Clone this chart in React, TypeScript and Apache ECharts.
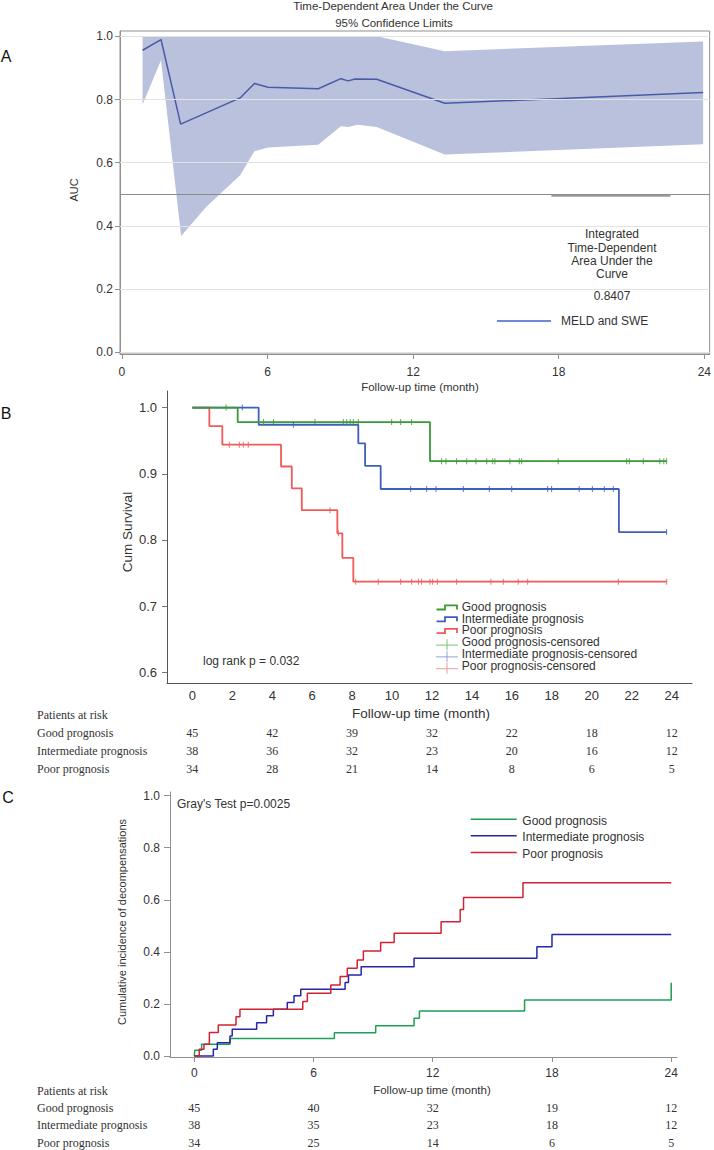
import React, { useEffect, useRef } from "react";
import * as echarts from "echarts";

// ---------- Panel A: time-dependent AUC ----------
const aucXTicks = [0, 6, 12, 18, 24];
const aucYTicks = [0, 0.2, 0.4, 0.6, 0.8, 1.0];
const aucTime = [0.85, 1.61, 2.42, 4.87, 5.46, 6.02, 8.09, 9.02, 9.33, 9.6, 10.5, 13.3, 23.95];
const aucValue = [0.956, 0.99, 0.722, 0.805, 0.851, 0.839, 0.834, 0.866, 0.859, 0.865, 0.864, 0.788, 0.822];
const bandTime = [0.85, 1.61, 2.44, 3.48, 4.87, 5.46, 6.02, 8.09, 9.02, 9.33, 9.7, 10.5, 13.3, 23.95];
const bandUpper = [1.0, 1.0, 1.0, 1.0, 1.0, 1.0, 1.0, 1.0, 1.0, 1.0, 1.0, 1.0, 0.953, 0.984];
const bandLower = [0.784, 0.924, 0.368, 0.46, 0.56, 0.636, 0.648, 0.657, 0.715, 0.713, 0.72, 0.713, 0.626, 0.658];
const aucReference = 0.5;
const aucLegendSegX = [17.7, 22.6];
const aucLegendSegY = 0.495;
const integratedAuc = "0.8407";

// ---------- Panel B: Kaplan-Meier ----------
const kmXTicks = [0, 2, 4, 6, 8, 10, 12, 14, 16, 18, 20, 22, 24];
const kmYTicks = [0.6, 0.7, 0.8, 0.9, 1.0];
const kmGoodT = [0, 2.27, 11.9, 23.75];
const kmGoodS = [1.0, 0.978, 0.919, 0.919];
const kmInterT = [0, 3.32, 8.31, 8.65, 9.43, 21.36, 23.75];
const kmInterS = [1.0, 0.974, 0.946, 0.912, 0.877, 0.812, 0.812];
const kmPoorT = [0, 0.85, 1.5, 4.44, 4.98, 5.48, 7.26, 7.51, 8.06, 23.75];
const kmPoorS = [1.0, 0.972, 0.944, 0.911, 0.878, 0.845, 0.81, 0.773, 0.737, 0.737];
const censGood = [1.69, 3.56, 4.06, 6.14, 7.56, 7.73, 7.9, 8.06, 8.31, 9.98, 10.43, 10.98, 12.48, 12.7, 13.23, 13.74, 14.2, 14.74, 15.04, 15.15, 15.9, 16.37, 16.49, 18.32, 21.75, 21.88, 22.58, 23.41, 23.61, 23.75];
const censInter = [2.5, 5.06, 10.93, 11.73, 12.2, 13.57, 14.87, 15.99, 17.79, 17.99, 19.37, 20.03, 20.63, 21.08, 23.75];
const censPoor = [1.85, 2.35, 2.55, 2.8, 6.89, 7.31, 8.18, 9.31, 10.43, 10.98, 11.32, 11.48, 11.9, 12.03, 12.27, 13.23, 14.95, 15.57, 16.32, 16.79, 21.33, 23.75];
const riskTimesB = [0, 4, 8, 12, 16, 20, 24];
const riskGoodB = [45, 42, 39, 32, 22, 18, 12];
const riskInterB = [38, 36, 32, 23, 20, 16, 12];
const riskPoorB = [34, 28, 21, 14, 8, 6, 5];

// ---------- Panel C: cumulative incidence ----------
const ciXTicks = [0, 6, 12, 18, 24];
const ciYTicks = [0, 0.2, 0.4, 0.6, 0.8, 1.0];
const ciGoodT = [0, 0.03, 0.37, 1.8, 7.05, 9.13, 11.06, 11.33, 16.62, 24.0];
const ciGoodV = [0, 0.022, 0.045, 0.067, 0.089, 0.116, 0.145, 0.173, 0.215, 0.281];
const ciInterT = [0, 0.96, 1.16, 1.8, 1.91, 3.14, 3.64, 3.98, 4.68, 5.02, 5.36, 7.59, 7.76, 8.4, 11.06, 17.24, 18.0, 24.0];
const ciInterV = [0, 0.026, 0.051, 0.077, 0.103, 0.128, 0.154, 0.179, 0.205, 0.231, 0.256, 0.282, 0.311, 0.343, 0.375, 0.42, 0.467, 0.467];
const ciPoorT = [0, 0.25, 0.49, 0.76, 1.21, 2.1, 2.3, 5.46, 5.69, 6.87, 7.34, 7.7, 8.2, 8.51, 9.38, 10.06, 12.42, 13.38, 13.55, 16.54, 24.0];
const ciPoorV = [0, 0.026, 0.045, 0.09, 0.119, 0.151, 0.179, 0.209, 0.241, 0.273, 0.305, 0.337, 0.369, 0.403, 0.436, 0.471, 0.516, 0.563, 0.609, 0.665, 0.665];
const riskTimesC = [0, 6, 12, 18, 24];
const riskGoodC = [45, 40, 32, 19, 12];
const riskInterC = [38, 35, 23, 18, 12];
const riskPoorC = [34, 25, 14, 6, 5];

const groupNames = ["Good prognosis", "Intermediate prognosis", "Poor prognosis"];

const SANS = "'Liberation Sans', Arial, sans-serif";
const SERIF = "'Liberation Serif', 'Times New Roman', serif";

const KM_COLORS = ["#3a9a34", "#3f5fc0", "#f25a5a"];
const KM_CENS = ["#7cc27a", "#8ea2e0", "#f59a9a"];
const CI_COLORS = ["#1f9f55", "#2626a8", "#cf2232"];

const zip = (a: number[], b: number[]) => a.map((v, i) => [v, b[i]]);
const stepAt = (t: number, T: number[], S: number[]) => {
  let v = S[0];
  for (let i = 0; i < T.length; i++) if (T[i] <= t) v = S[i];
  return v;
};
const fmt1 = (v: number) => v.toFixed(1);

function txt(x: number, y: number, text: string, o: any = {}) {
  const align = o.align || "left";
  const va = o.va || "middle";
  return {
    type: "text",
    x,
    y,
    rotation: o.rotation || 0,
    silent: true,
    z: 50,
    style: {
      x: 0,
      y: 0,
      text,
      fill: o.color || "#333",
      fontSize: o.size || 12,
      fontFamily: o.family || SANS,
      fontWeight: o.weight || "normal",
      align,
      verticalAlign: va,
      textAlign: align,
      textVerticalAlign: va,
    },
  };
}

function buildOption(): any {
  const axisBase = (color: string) => ({
    type: "value",
    splitLine: { show: false },
    axisLine: { show: true, onZero: false, lineStyle: { color, width: 1 } },
  });
  const label = (vals: number[], size: number, margin: number, fmt?: (v: number) => string) => ({
    customValues: vals,
    color: "#333",
    fontSize: size,
    fontFamily: SANS,
    margin,
    formatter: fmt ? (v: number) => fmt(v) : (v: number) => String(v),
  });

  return {
    animation: false,
    backgroundColor: "#fff",
    grid: [
      { left: 120, top: 31, width: 592, height: 323, show: true, borderColor: "#8f8f8f", borderWidth: 1, backgroundColor: "transparent" },
      { left: 167, top: 391, width: 525, height: 292 },
      { left: 170, top: 792, width: 507, height: 265 },
    ],
    xAxis: [
      {
        ...axisBase("#8f8f8f"),
        gridIndex: 0,
        min: -0.08,
        max: 24.22,
        axisTick: { show: true, customValues: aucXTicks, length: 5, lineStyle: { color: "#8f8f8f" } },
        axisLabel: label(aucXTicks, 12, 12),
      },
      {
        ...axisBase("#555"),
        gridIndex: 1,
        min: -1.27,
        max: 25.02,
        axisTick: { show: false },
        axisLabel: label(kmXTicks, 13, 6),
      },
      {
        ...axisBase("#8f8f8f"),
        gridIndex: 2,
        min: -1.22,
        max: 24.29,
        axisTick: { show: true, customValues: ciXTicks, length: 5, lineStyle: { color: "#8f8f8f" } },
        axisLabel: label(ciXTicks, 12, 10),
      },
    ],
    yAxis: [
      {
        ...axisBase("#8f8f8f"),
        gridIndex: 0,
        min: -0.006,
        max: 1.017,
        axisTick: { show: true, customValues: aucYTicks, length: 5, lineStyle: { color: "#8f8f8f" } },
        axisLabel: label(aucYTicks, 12, 7, fmt1),
      },
      {
        ...axisBase("#555"),
        gridIndex: 1,
        min: 0.584,
        max: 1.025,
        axisTick: { show: true, customValues: kmYTicks, length: 5, lineStyle: { color: "#777" } },
        axisLabel: label(kmYTicks, 13, 10, fmt1),
      },
      {
        ...axisBase("#8f8f8f"),
        gridIndex: 2,
        min: -0.004,
        max: 1.014,
        axisTick: { show: true, customValues: ciYTicks, length: 6, lineStyle: { color: "#8f8f8f" } },
        axisLabel: label(ciYTicks, 12, 10, fmt1),
      },
    ],
    series: [
      {
        type: "custom",
        xAxisIndex: 0,
        yAxisIndex: 0,
        silent: true,
        z: 1,
        data: [[bandTime[0], bandLower[0]]],
        renderItem: (params: any, api: any) => {
          const pts: number[][] = [];
          for (let i = 0; i < bandTime.length; i++) pts.push(api.coord([bandTime[i], bandUpper[i]]));
          for (let i = bandTime.length - 1; i >= 0; i--) pts.push(api.coord([bandTime[i], bandLower[i]]));
          return { type: "polygon", shape: { points: pts }, style: { fill: "#b9c1dd" } };
        },
      },
      {
        type: "line",
        xAxisIndex: 0,
        yAxisIndex: 0,
        z: 2,
        silent: true,
        symbol: "none",
        lineStyle: { opacity: 0 },
        data: [[0, 0.5]],
        markLine: {
          silent: true,
          symbol: ["none", "none"],
          label: { show: false },
          lineStyle: { color: "#e2e2e2", type: "solid", width: 1 },
          data: aucYTicks.map((v) => ({ yAxis: v })),
        },
      },
      {
        type: "line",
        xAxisIndex: 0,
        yAxisIndex: 0,
        z: 3,
        silent: true,
        symbol: "none",
        lineStyle: { opacity: 0 },
        data: [[0, 0.5]],
        markLine: {
          silent: true,
          symbol: ["none", "none"],
          label: { show: false },
          lineStyle: { color: "#8a8a8a", type: "solid", width: 1 },
          data: [{ yAxis: aucReference }],
        },
      },
      {
        type: "line",
        xAxisIndex: 0,
        yAxisIndex: 0,
        z: 4,
        silent: true,
        symbol: "none",
        lineStyle: { color: "#4a5aa6", width: 1.5 },
        data: zip(aucTime, aucValue),
      },
      {
        type: "line",
        xAxisIndex: 0,
        yAxisIndex: 0,
        z: 4,
        silent: true,
        symbol: "none",
        lineStyle: { color: "#9a9a9a", width: 2 },
        data: aucLegendSegX.map((x) => [x, aucLegendSegY]),
      },
      ...[
        [kmGoodT, kmGoodS],
        [kmInterT, kmInterS],
        [kmPoorT, kmPoorS],
      ].map(([T, S], k) => ({
        type: "line",
        xAxisIndex: 1,
        yAxisIndex: 1,
        step: "end",
        z: 5 + (2 - k),
        silent: true,
        symbol: "none",
        lineStyle: { color: KM_COLORS[k], width: 1.8 },
        data: zip(T, S),
      })),
      ...[
        [censGood, kmGoodT, kmGoodS],
        [censInter, kmInterT, kmInterS],
        [censPoor, kmPoorT, kmPoorS],
      ].map(([C, T, S], k) => ({
        type: "scatter",
        xAxisIndex: 1,
        yAxisIndex: 1,
        z: 9,
        silent: true,
        symbol: "rect",
        symbolSize: [1, 6],
        itemStyle: { color: KM_COLORS[k], opacity: 0.85 },
        data: C.map((t) => [t, stepAt(t, T, S)]),
      })),
      ...[
        [ciGoodT, ciGoodV],
        [ciInterT, ciInterV],
        [ciPoorT, ciPoorV],
      ].map(([T, V], k) => ({
        type: "line",
        xAxisIndex: 2,
        yAxisIndex: 2,
        step: "end",
        z: 5 + k,
        silent: true,
        symbol: "none",
        lineStyle: { color: CI_COLORS[k], width: 1.5 },
        data: zip(T, V),
      })),
    ],
  };
}

function buildGraphics(chart: any): any[] {
  const px = (axis: number, v: number) => chart.convertToPixel({ xAxisIndex: axis }, v) as number;
  const g: any[] = [];

  // Panel A
  g.push(txt(6, 56, "A", { size: 16, align: "center", color: "#111" }));
  g.push(txt(393, 6, "Time-Dependent Area Under the Curve", { size: 11.5, align: "center" }));
  g.push(txt(394, 23, "95% Confidence Limits", { size: 11.5, align: "center" }));
  g.push(txt(74, 190, "AUC", { size: 11, align: "center", rotation: Math.PI / 2 }));
  g.push(txt(420, 387, "Follow-up time (month)", { size: 11.5, align: "center" }));
  ["Integrated", "Time-Dependent", "Area Under the", "Curve"].forEach((s, i) =>
    g.push(txt(612, 234.3 + i * 13.3, s, { size: 12, align: "center" }))
  );
  g.push(txt(612, 296, integratedAuc, { size: 12, align: "center" }));
  g.push({ type: "line", silent: true, z: 50, shape: { x1: 497, y1: 321, x2: 551, y2: 321 }, style: { stroke: "#3b62c8", lineWidth: 1.5 } });
  g.push(txt(561, 321, "MELD and SWE", { size: 12 }));

  // Panel B
  g.push(txt(6, 413, "B", { size: 16, align: "center", color: "#111" }));
  g.push(txt(127, 532, "Cum Survival", { size: 13.5, align: "center", rotation: Math.PI / 2 }));
  g.push(txt(421, 713, "Follow-up time (month)", { size: 13.5, align: "center" }));
  g.push(txt(203, 661, "log rank p = 0.032", { size: 12 }));
  const legY = 606.7;
  const step = 11.8;
  groupNames.forEach((name, k) => {
    const c = legY + k * step;
    g.push({
      type: "polyline",
      silent: true,
      z: 50,
      shape: { points: [[436.5, c + 2.8], [445, c + 2.8], [445, c - 1.4], [457, c - 1.4], [457, c + 2.8]] },
      style: { stroke: KM_COLORS[k], lineWidth: 1.8, fill: null },
    });
    g.push(txt(461.7, c, name, { size: 12 }));
  });
  groupNames.forEach((name, k) => {
    const c = legY + (k + 3) * step;
    g.push({ type: "line", silent: true, z: 50, shape: { x1: 436, y1: c + 3, x2: 458, y2: c + 3 }, style: { stroke: KM_CENS[k], lineWidth: 1 } });
    g.push({ type: "line", silent: true, z: 50, shape: { x1: 447, y1: c - 3, x2: 447, y2: c + 8 }, style: { stroke: KM_CENS[k], lineWidth: 1 } });
    g.push(txt(461.7, c, name + "-censored", { size: 12 }));
  });
  // risk table B
  g.push(txt(37, 715, "Patients at risk", { size: 12, family: SERIF }));
  const rowsB = [riskGoodB, riskInterB, riskPoorB];
  rowsB.forEach((row, k) => {
    const y = 733 + k * 17.8;
    g.push(txt(37, y, groupNames[k], { size: 12, family: SERIF }));
    row.forEach((n, i) => g.push(txt(px(1, riskTimesB[i]), y, String(n), { size: 12, family: SERIF, align: "center" })));
  });

  // Panel C
  g.push(txt(8, 797, "C", { size: 16, align: "center", color: "#111" }));
  g.push(txt(122, 922, "Cumulative incidence of decompensations", { size: 11, align: "center", rotation: Math.PI / 2 }));
  g.push(txt(177, 804, "Gray's Test p=0.0025", { size: 12 }));
  groupNames.forEach((name, k) => {
    const c = 820.7 + k * 16.6;
    g.push({ type: "line", silent: true, z: 50, shape: { x1: 470.7, y1: c - 1.5, x2: 516.7, y2: c - 1.5 }, style: { stroke: CI_COLORS[k], lineWidth: 1.5 } });
    g.push(txt(522.3, c, name, { size: 12 }));
  });
  g.push(txt(432, 1090, "Follow-up time (month)", { size: 11.5, align: "center" }));
  g.push(txt(37, 1090.7, "Patients at risk", { size: 12, family: SERIF }));
  const rowsC = [riskGoodC, riskInterC, riskPoorC];
  rowsC.forEach((row, k) => {
    const y = 1107.5 + k * 17.6;
    g.push(txt(37, y, groupNames[k], { size: 12, family: SERIF }));
    row.forEach((n, i) => g.push(txt(px(2, riskTimesC[i]), y, String(n), { size: 12, family: SERIF, align: "center" })));
  });
  return g;
}

export default function App() {
  const ref = useRef<HTMLDivElement>(null);
  useEffect(() => {
    if (!ref.current) return;
    const chart = echarts.init(ref.current, null, { renderer: "svg" });
    chart.setOption(buildOption());
    chart.setOption({ graphic: { elements: buildGraphics(chart) } });
    return () => chart.dispose();
  }, []);
  return (
    <div
      ref={ref}
      style={{ position: "absolute", left: 0, top: 0, width: 714, height: 1150, background: "#fff" }}
    />
  );
}
